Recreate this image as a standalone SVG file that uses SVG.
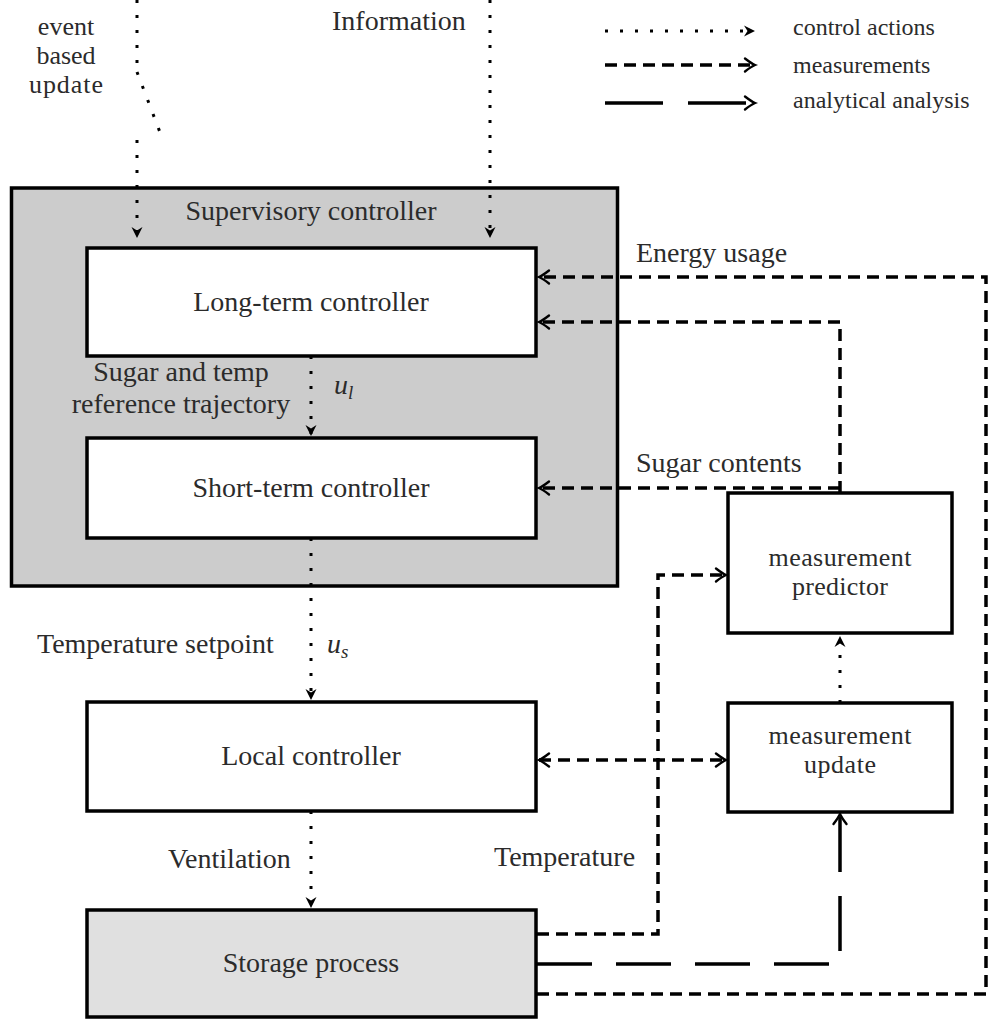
<svg xmlns="http://www.w3.org/2000/svg" width="991" height="1021" viewBox="0 0 991 1021" font-family="'Liberation Serif', 'Times New Roman', 'DejaVu Serif', serif">
  <style>
    text { font-family: 'Liberation Serif', 'Times New Roman', 'DejaVu Serif', serif; font-size: 28px; fill: #2b2b2b; }
    .mid { text-anchor: middle; }
    .leg { font-size: 24px; }
    .stack { font-size: 26px; }
    .ital { font-style: italic; }
    .sub { font-size: 19px; font-style: italic; }
    .box { stroke: #000; stroke-width: 3.5; fill: #fff; }
    .group { fill: #cccccc; }
    .plant { fill: #e0e0e0; }
    .dot { fill: none; stroke: #000; stroke-width: 3; stroke-dasharray: 3 12; }
    .dash { fill: none; stroke: #000; stroke-width: 3.5; stroke-dasharray: 12 7; }
    .ldash { fill: none; stroke: #000; stroke-width: 3.5; stroke-dasharray: 55 24; }
    .ctl { marker-end: url(#stealth); }
    .meas { marker-end: url(#to); }
  </style>
  <defs>
    <marker id="stealth" markerUnits="userSpaceOnUse" viewBox="-12 -7 14 14" markerWidth="14" markerHeight="14" refX="0" refY="0" orient="auto" overflow="visible">
      <path d="M-11,-5.5 L0,0 L-11,5.5 L-7.5,0 Z" fill="#000" stroke="none"/>
    </marker>
    <marker id="to" markerUnits="userSpaceOnUse" viewBox="-12 -8 14 16" markerWidth="14" markerHeight="16" refX="0" refY="0" orient="auto-start-reverse" overflow="visible">
      <path d="M-10,-6.5 Q-3.5,-1.5 0,0 Q-3.5,1.5 -10,6.5" fill="none" stroke="#000" stroke-width="2.4" stroke-linecap="round" stroke-dasharray="none"/>
    </marker>
  </defs>

  <!-- legend -->
  <g id="legend">
    <path class="dot ctl" d="M605,31 H755"/>
    <text class="leg" x="793" y="35">control actions</text>
    <path class="dash meas" d="M605,65 H755"/>
    <text class="leg" x="793" y="73">measurements</text>
    <path class="ldash meas" d="M605,103 H755" style="stroke-dasharray: 58 25"/>
    <text class="leg" x="793" y="108">analytical analysis</text>
  </g>

  <!-- supervisory controller frame -->
  <g id="supervisory">
    <rect class="box group" x="11.5" y="188" width="606" height="398"/>
    <text class="mid" x="311" y="220">Supervisory controller</text>
  </g>

  <g id="long-term">
    <rect class="box" x="87" y="248" width="449" height="108"/>
    <text class="mid" x="311" y="311">Long-term controller</text>
  </g>

  <g id="short-term">
    <rect class="box" x="87" y="438" width="449" height="100"/>
    <text class="mid" x="311" y="497">Short-term controller</text>
  </g>

  <g id="local">
    <rect class="box" x="87" y="702" width="449" height="109"/>
    <text class="mid" x="311" y="765">Local controller</text>
  </g>

  <g id="storage">
    <rect class="box plant" x="87" y="910" width="449" height="107"/>
    <text class="mid" x="311" y="972">Storage process</text>
  </g>

  <g id="predictor">
    <rect class="box" x="728" y="493" width="224" height="140"/>
    <text class="mid stack" x="840" y="566" textLength="143">measurement</text>
    <text class="mid stack" x="840" y="595" textLength="96">predictor</text>
  </g>

  <g id="update">
    <rect class="box" x="728" y="703" width="224" height="109"/>
    <text class="mid stack" x="840" y="744" textLength="143">measurement</text>
    <text class="mid stack" x="840" y="773" textLength="72">update</text>
  </g>

  <!-- connectors -->
  <g id="connectors">
    <!-- control actions -->
    <path class="dot" d="M137,0 V72"/>
    <path class="dot" d="M137,72 L161,135"/>
    <path class="dot ctl" d="M137,140 V238"/>
    <path class="dot ctl" d="M490,0 V238"/>
    <path class="dot ctl" d="M311,356 V436"/>
    <path class="dot ctl" d="M311,538 V700"/>
    <path class="dot ctl" d="M311,811 V908"/>
    <path class="dot ctl" d="M840,703 V636"/>
    <!-- measurements -->
    <path class="dash meas" d="M537,994 H986 V277 H539"/>
    <path class="dash meas" d="M840,493 V322 H539"/>
    <path class="dash meas" d="M840,488 H539"/>
    <path class="dash meas" d="M537,934 H658 V575 H726"/>
    <path class="dash meas" d="M539,760 H726" style="marker-start: url(#to)"/>
    <!-- analytical analysis -->
    <path class="ldash meas" d="M537,964 H840 V814"/>
  </g>

  <!-- connector labels -->
  <g id="labels">
    <text class="mid stack" x="66" y="35">event</text>
    <text class="mid stack" x="66" y="64">based</text>
    <text class="mid stack" x="66" y="93" textLength="74">update</text>
    <text x="332" y="30">Information</text>
    <text class="mid" x="181" y="381">Sugar and temp</text>
    <text class="mid" x="181" y="413">reference trajectory</text>
    <text class="ital" x="334" y="394">u</text><text class="sub" x="348" y="399">l</text>
    <text x="37" y="653">Temperature setpoint</text>
    <text class="ital" x="327" y="653">u</text><text class="sub" x="341" y="658">s</text>
    <text x="168" y="868">Ventilation</text>
    <text x="494" y="866">Temperature</text>
    <text x="636" y="262">Energy usage</text>
    <text x="636" y="472">Sugar contents</text>
  </g>
</svg>
